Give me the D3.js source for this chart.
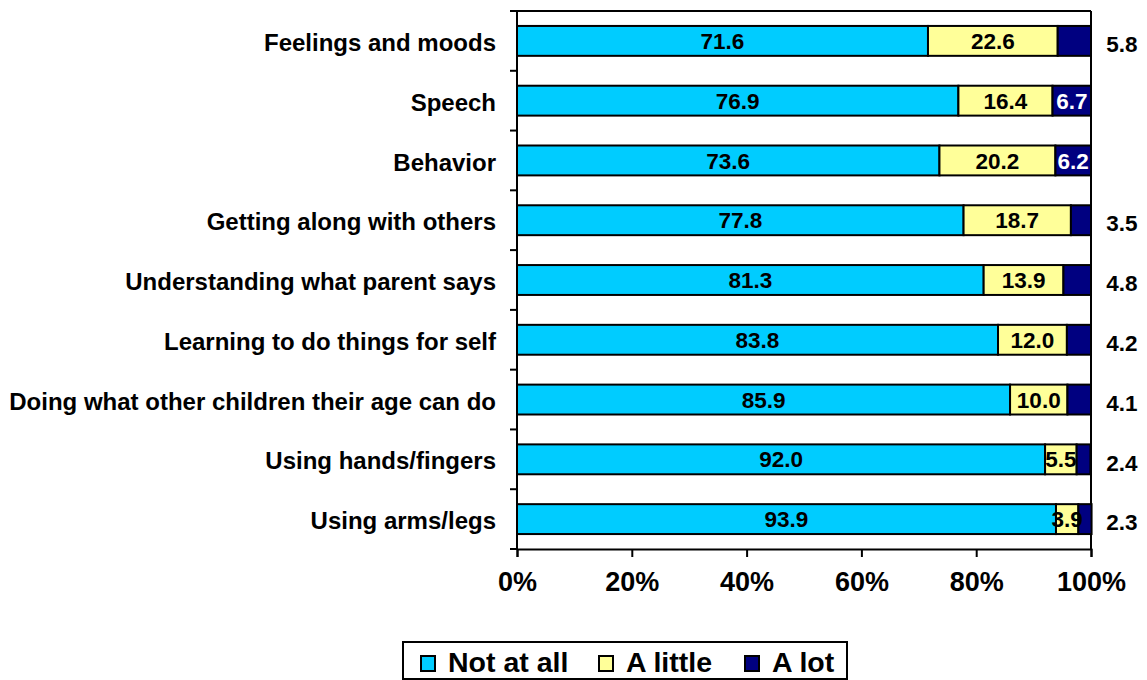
<!DOCTYPE html>
<html>
<head>
<meta charset="utf-8">
<script src="https://cdn.jsdelivr.net/npm/d3@7"></script>
<style>
  html, body { margin: 0; padding: 0; background: #fff; }
  svg { display: block; font-family: "Liberation Sans", Arial, sans-serif; font-weight: bold; }
</style>
</head>
<body>
<svg id="chart" width="1147" height="680"></svg>
<script>
// ---- data ----
const categories = [
  "Feelings and moods",
  "Speech",
  "Behavior",
  "Getting along with others",
  "Understanding what parent says",
  "Learning to do things for self",
  "Doing what other children their age can do",
  "Using hands/fingers",
  "Using arms/legs"
];
const notAtAll = [71.6, 76.9, 73.6, 77.8, 81.3, 83.8, 85.9, 92.0, 93.9];
const aLittle  = [22.6, 16.4, 20.2, 18.7, 13.9, 12.0, 10.0, 5.5, 3.9];
const aLot     = [5.8, 6.7, 6.2, 3.5, 4.8, 4.2, 4.1, 2.4, 2.3];
const seriesNames = ["Not at all", "A little", "A lot"];
const xTicks = [0, 20, 40, 60, 80, 100];

// ---- layout ----
const colors = ["#00CCFF", "#FFFF99", "#000080"];
const svg = d3.select("#chart");
const x0 = 517, x1 = 1091, yTop = 11, yBot = 549;

const x = d3.scaleLinear().domain([0, 100]).range([x0, x1]);
const y = d3.scaleBand().domain(categories).range([yTop, yBot]).paddingInner(0.5).paddingOuter(0.25);

const rows = categories.map((c, i) => ({ cat: c, vals: [notAtAll[i], aLittle[i], aLot[i]] }));
const stack = d3.stack().keys([0, 1, 2]).value((d, k) => d.vals[k]);
const layers = stack(rows);

// frame (top and right)
svg.append("line").attr("x1", x0).attr("x2", x1).attr("y1", yTop).attr("y2", yTop)
  .attr("stroke", "#000").attr("stroke-width", 2);
svg.append("line").attr("x1", x1).attr("x2", x1).attr("y1", yTop).attr("y2", yBot)
  .attr("stroke", "#000").attr("stroke-width", 2);

// bars
layers.forEach((layer, k) => {
  svg.append("g").selectAll("rect").data(layer).enter().append("rect")
    .attr("x", d => x(d[0]))
    .attr("y", d => y(d.data.cat))
    .attr("width", d => x(d[1]) - x(d[0]))
    .attr("height", y.bandwidth())
    .attr("fill", colors[k])
    .attr("stroke", "#000")
    .attr("stroke-width", 2);
});

// y axis: line + ticks at band boundaries
svg.append("line").attr("x1", x0).attr("x2", x0).attr("y1", yTop).attr("y2", yBot)
  .attr("stroke", "#000").attr("stroke-width", 2);
d3.range(categories.length + 1).forEach(i => {
  const yy = yTop + i * (yBot - yTop) / categories.length;
  svg.append("line").attr("x1", x0 - 7).attr("x2", x0).attr("y1", yy).attr("y2", yy)
    .attr("stroke", "#000").attr("stroke-width", 2);
});

// category labels
svg.append("g").selectAll("text").data(categories).enter().append("text")
  .attr("x", 496)
  .attr("y", d => y(d) + y.bandwidth() / 2)
  .attr("dy", "0.42em")
  .attr("text-anchor", "end")
  .attr("font-size", 24)
  .text(d => d);

// x axis
const xAxis = d3.axisBottom(x).tickValues(xTicks).tickSize(8).tickFormat(d => d + "%");
const gx = svg.append("g").attr("transform", `translate(0,${yBot})`).call(xAxis);
gx.select(".domain").attr("stroke", "#000").attr("stroke-width", 2);
gx.selectAll(".tick line").attr("stroke", "#000").attr("stroke-width", 2);
gx.selectAll(".tick text").attr("font-size", 27).attr("font-family", "Liberation Sans, Arial, sans-serif")
  .attr("font-weight", "bold").attr("fill", "#000").attr("y", 0).attr("dy", "1.55em");

// value labels
layers.forEach((layer, k) => {
  layer.forEach(d => {
    const v = d.data.vals[k];
    const cy = y(d.data.cat) + y.bandwidth() / 2;
    let tx = (x(d[0]) + x(d[1])) / 2, fill = "#000", dy = "0.36em";
    if (k === 2) {
      if (v >= 6) { fill = "#fff"; }
      else { tx = 1122; dy = "0.5em"; }
    }
    svg.append("text")
      .attr("x", tx).attr("y", cy).attr("dy", dy)
      .attr("text-anchor", "middle")
      .attr("font-size", 22.5)
      .attr("fill", fill)
      .text(v.toFixed(1));
  });
});

// legend
const lg = svg.append("g");
lg.append("rect").attr("x", 403).attr("y", 642).attr("width", 444).attr("height", 37)
  .attr("fill", "#fff").attr("stroke", "#000").attr("stroke-width", 2);
const legendX = [421, 599, 745];
seriesNames.forEach((name, k) => {
  lg.append("rect").attr("x", legendX[k]).attr("y", 656).attr("width", 14).attr("height", 15)
    .attr("fill", colors[k]).attr("stroke", "#000").attr("stroke-width", 2);
  lg.append("text").attr("x", legendX[k] + 27).attr("y", 672)
    .attr("font-size", 28.5).text(name);
});
</script>
</body>
</html>
